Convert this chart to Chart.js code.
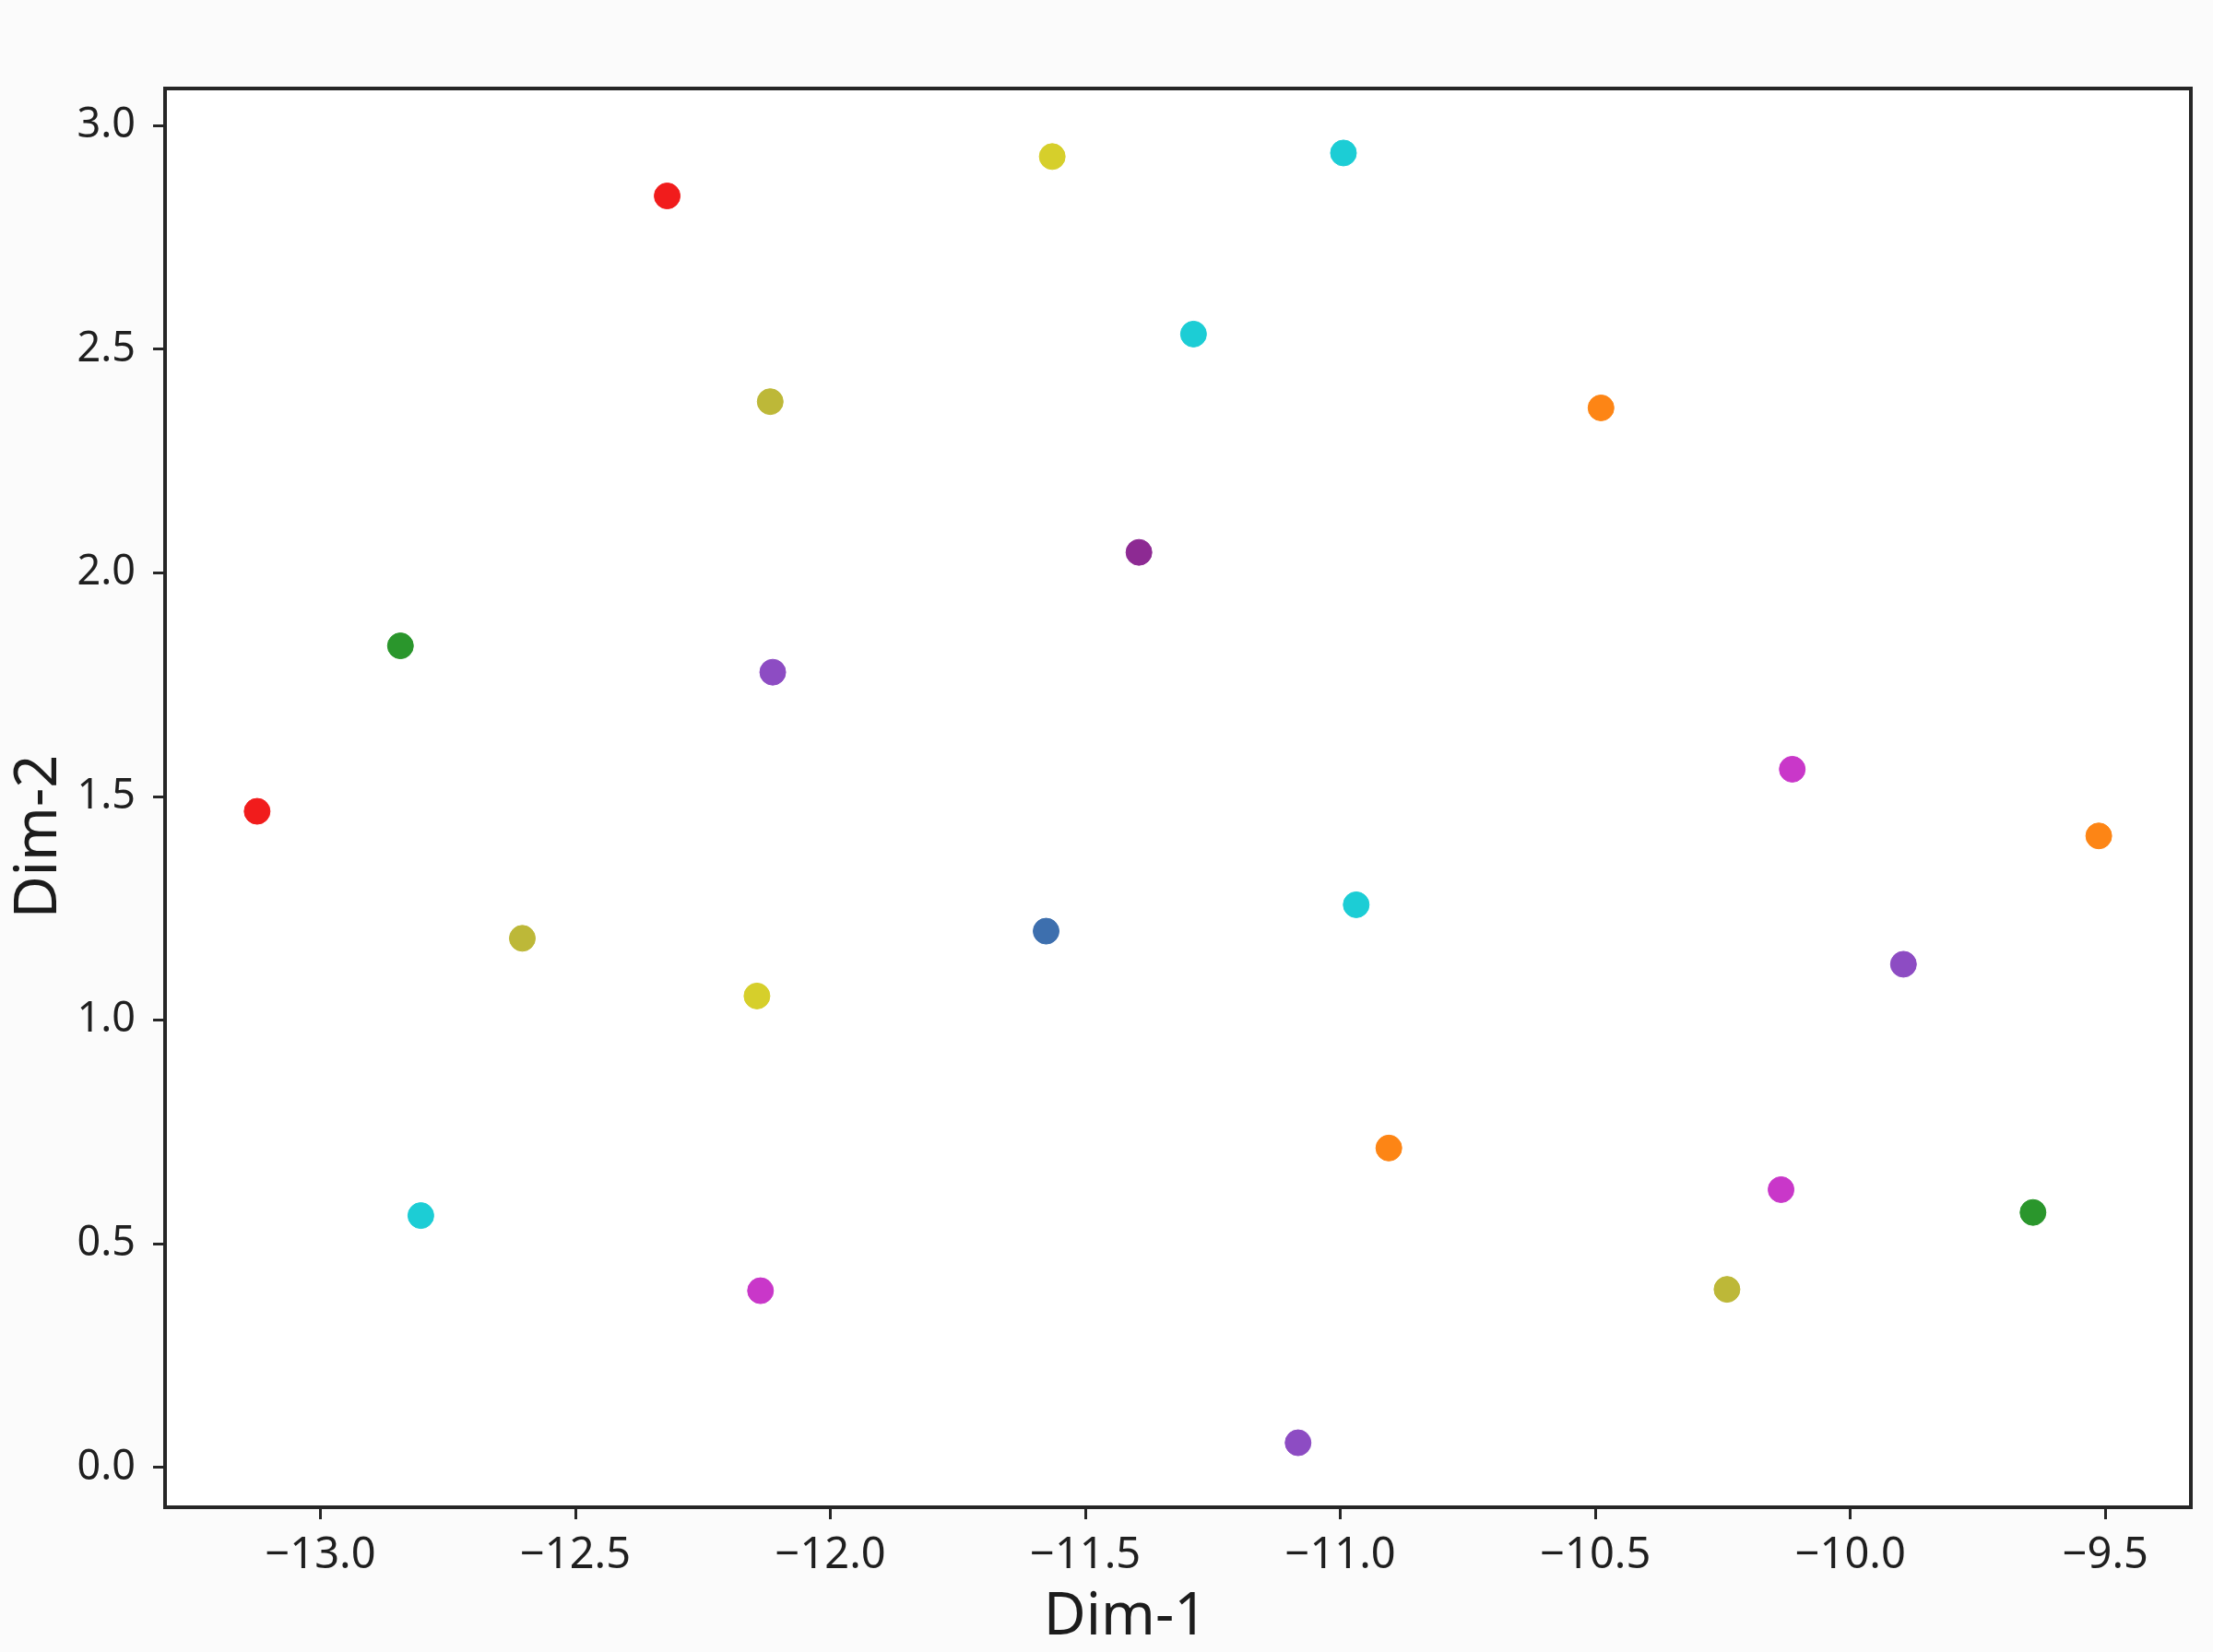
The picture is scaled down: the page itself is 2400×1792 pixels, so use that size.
<!DOCTYPE html>
<html>
<head>
<meta charset="utf-8">
<script src="https://cdn.jsdelivr.net/npm/chart.js@4.4.1/dist/chart.umd.min.js"></script>
<style>
  html, body { margin: 0; padding: 0; background: #fbfbfb; }
  canvas { display: block; }
</style>
</head>
<body>
<canvas id="chart" width="2400" height="1792"></canvas>
<script>
// embedding coordinates, one entry per point
const dim1 = [-12.320, -12.118, -12.843, -12.113, -11.565, -10.994, -11.288, -11.395,
              -10.489, -10.114, -13.124, -12.604, -12.144, -12.803, -12.137, -11.577,
              -10.969, -10.905, -11.083, -9.513, -9.896, -10.136, -9.642, -10.242];
const dim2 = [2.843, 2.383, 1.837, 1.778, 2.931, 2.939, 2.534, 2.046,
              2.369, 1.561, 1.467, 1.183, 1.054, 0.563, 0.395, 1.199,
              1.258, 0.714, 0.055, 1.412, 1.125, 0.621, 0.570, 0.398];
const groups = ['red', 'olive', 'green', 'violet', 'yellow', 'cyan', 'cyan', 'purple',
                'orange', 'magenta', 'red', 'olive', 'yellow', 'cyan', 'magenta', 'blue',
                'cyan', 'orange', 'violet', 'orange', 'violet', 'magenta', 'green', 'olive'];

const xTicks = [-13.0, -12.5, -12.0, -11.5, -11.0, -10.5, -10.0, -9.5];
const yTicks = [0.0, 0.5, 1.0, 1.5, 2.0, 2.5, 3.0];

const palette = {
  red: '#f11c1c',
  orange: '#fd8515',
  yellow: '#d6cf2b',
  olive: '#bdb838',
  green: '#2a962c',
  cyan: '#1ccdd5',
  blue: '#3d6fae',
  purple: '#8d2a93',
  violet: '#8d4cc3',
  magenta: '#c937c9'
};

const INK = '#262626';
const FONT = '"Noto Sans", "Open Sans", sans-serif';

// matplotlib-style 5% margins around the data
function padRange(vals) {
  const lo = Math.min(...vals), hi = Math.max(...vals);
  const m = (hi - lo) * 0.05;
  return [lo - m, hi + m];
}
const [xMin, xMax] = padRange(dim1);
const [yMin, yMax] = padRange(dim2);

const fmt = v => v.toFixed(1).replace('-', '\u2212');

const framePlugin = {
  id: 'frame',
  beforeDatasetsDraw(chart) {
    const { ctx, chartArea: a } = chart;
    ctx.save();
    ctx.fillStyle = '#ffffff';
    ctx.fillRect(a.left, a.top, a.right - a.left, a.bottom - a.top);
    ctx.restore();
  },
  afterDraw(chart) {
    const { ctx, chartArea: a } = chart;
    ctx.save();
    ctx.strokeStyle = INK;
    ctx.lineWidth = 4;
    ctx.strokeRect(a.left, a.top, a.right - a.left, a.bottom - a.top);

    ctx.fillStyle = '#1c1c1c';
    ctx.font = '63px ' + FONT;
    ctx.textAlign = 'center';
    ctx.textBaseline = 'middle';
    ctx.fillText('Dim-1', (a.left + a.right) / 2 - 57, a.bottom + 120);

    ctx.translate(a.left - 136, (a.top + a.bottom) / 2 + 42);
    ctx.rotate(-Math.PI / 2);
    ctx.fillText('Dim-2', 0, 0);
    ctx.restore();
  }
};

const points = dim1.map((x, i) => ({ x, y: dim2[i] }));

new Chart(document.getElementById('chart'), {
  type: 'scatter',
  data: {
    datasets: [{
      data: points,
      backgroundColor: groups.map(g => palette[g]),
      borderColor: groups.map(g => palette[g]),
      pointRadius: 14,
      pointBorderWidth: 1,
      pointHoverRadius: 14
    }]
  },
  options: {
    responsive: false,
    animation: false,
    layout: { padding: { top: 96, right: 24, left: 0, bottom: 0 } },
    plugins: {
      legend: { display: false },
      tooltip: { enabled: false }
    },
    scales: {
      x: {
        type: 'linear',
        min: xMin,
        max: xMax,
        afterFit: s => { s.height = 157; },
        afterBuildTicks: s => { s.ticks = xTicks.map(v => ({ value: v })); },
        border: { display: false },
        grid: { drawOnChartArea: false, drawTicks: true, tickLength: 13, tickWidth: 3, tickColor: INK },
        ticks: {
          padding: 11,
          color: '#1f1f1f',
          font: { family: FONT, size: 47 },
          maxRotation: 0,
          callback: v => fmt(v)
        }
      },
      y: {
        type: 'linear',
        min: yMin,
        max: yMax,
        afterFit: s => { s.width = 179; },
        afterBuildTicks: s => { s.ticks = yTicks.map(v => ({ value: v })); },
        border: { display: false },
        grid: { drawOnChartArea: false, drawTicks: true, tickLength: 13, tickWidth: 3, tickColor: INK },
        ticks: {
          padding: 19,
          color: '#1f1f1f',
          font: { family: FONT, size: 45 },
          callback: v => fmt(v)
        }
      }
    }
  },
  plugins: [framePlugin]
});
</script>
</body>
</html>
